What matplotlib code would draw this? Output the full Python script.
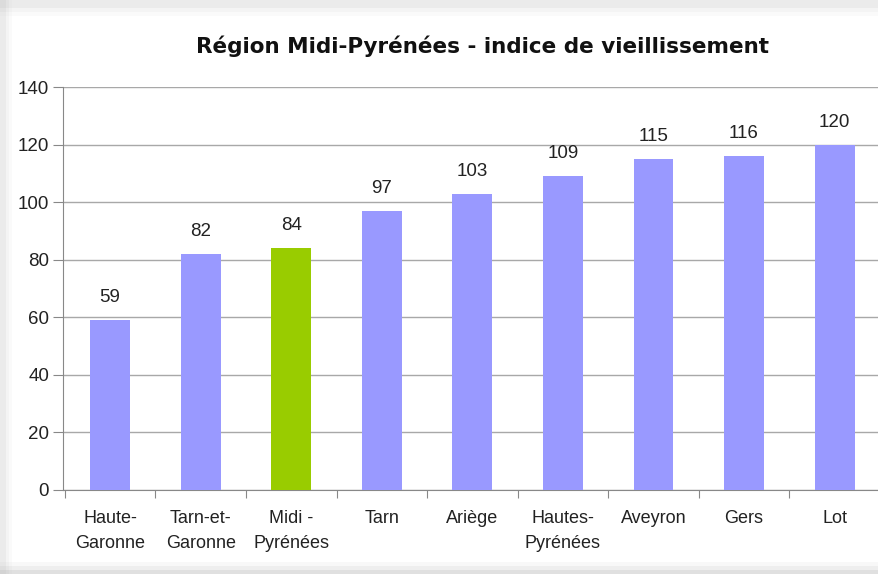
import matplotlib
matplotlib.use("Agg")
import matplotlib.pyplot as plt
from matplotlib.patches import Rectangle

categories = ["Haute-\nGaronne", "Tarn-et-\nGaronne", "Midi -\nPyrénées", "Tarn", "Ariège",
              "Hautes-\nPyrénées", "Aveyron", "Gers", "Lot"]
values = [59, 82, 84, 97, 103, 109, 115, 116, 120]
highlight = "Midi -\nPyrénées"
yticks = [0, 20, 40, 60, 80, 100, 120, 140]
title = "Région Midi-Pyrénées - indice de vieillissement"

plt.rcParams['font.family'] = ['Liberation Sans', 'DejaVu Sans']

W, H = 879, 574
fig = plt.figure(figsize=(W / 100, H / 100), dpi=100)
fig.patch.set_facecolor("white")

# screenshot-like panel shadow
for i, a in enumerate([0.05, 0.08, 0.12]):
    fig.patches.append(Rectangle((0, 0), 1, (12 - 4 * i) / H, transform=fig.transFigure,
                                 facecolor="#808080", alpha=a, edgecolor="none", zorder=0))
    fig.patches.append(Rectangle((0, 1 - (16 - 4 * i) / H), 1, (16 - 4 * i) / H, transform=fig.transFigure,
                                 facecolor="#b0b0b0", alpha=a, edgecolor="none", zorder=0))
    fig.patches.append(Rectangle((0, 0), (12 - 3 * i) / W, 1, transform=fig.transFigure,
                                 facecolor="#b0b0b0", alpha=a, edgecolor="none", zorder=0))

left, right = 63 / W, 1.0
bottom, top = (H - 490) / H, (H - 87) / H
ax = fig.add_axes([left, bottom, right - left, top - bottom])
ax.set_facecolor("none")

x = list(range(len(categories)))
colors = ["#99cc00" if c == highlight else "#9999ff" for c in categories]
bars = ax.bar(x, values, width=0.44, color=colors, zorder=3)

for xi, v in zip(x, values):
    ax.text(xi, v + 7.8, str(v), ha="center", va="center", fontsize=13.5, color="#222222")

ax.set_xlim(-0.52, 8.49)
ax.set_ylim(0, 140)
ax.set_yticks(yticks)
ax.set_yticklabels([str(t) for t in yticks], fontsize=13.5, color="#222222")
ax.yaxis.grid(True, color="#a8a8a8", linewidth=1.0, zorder=0)
ax.set_axisbelow(True)

ax.set_xticks([i + 0.5 for i in range(-1, len(categories) - 1)])
ax.set_xticklabels([])
ax.tick_params(axis="x", length=6, color="#888888", direction="out")
ax.tick_params(axis="y", length=7, color="#888888", direction="out", pad=3)
for xi, c in zip(x, categories):
    ax.text(xi, -7.0, c, ha="center", va="top", fontsize=13, color="#222222",
            transform=ax.transData, linespacing=1.6)

for s in ["top", "right"]:
    ax.spines[s].set_visible(False)
ax.spines["left"].set_color("#888888")
ax.spines["bottom"].set_color("#888888")

fig.text(483 / W, 1 - 46 / H, title, ha="center", va="center", fontsize=15.5, fontweight="bold",
         color="#111111", family=["DejaVu Sans"])

fig.savefig("out.png", dpi=100)
